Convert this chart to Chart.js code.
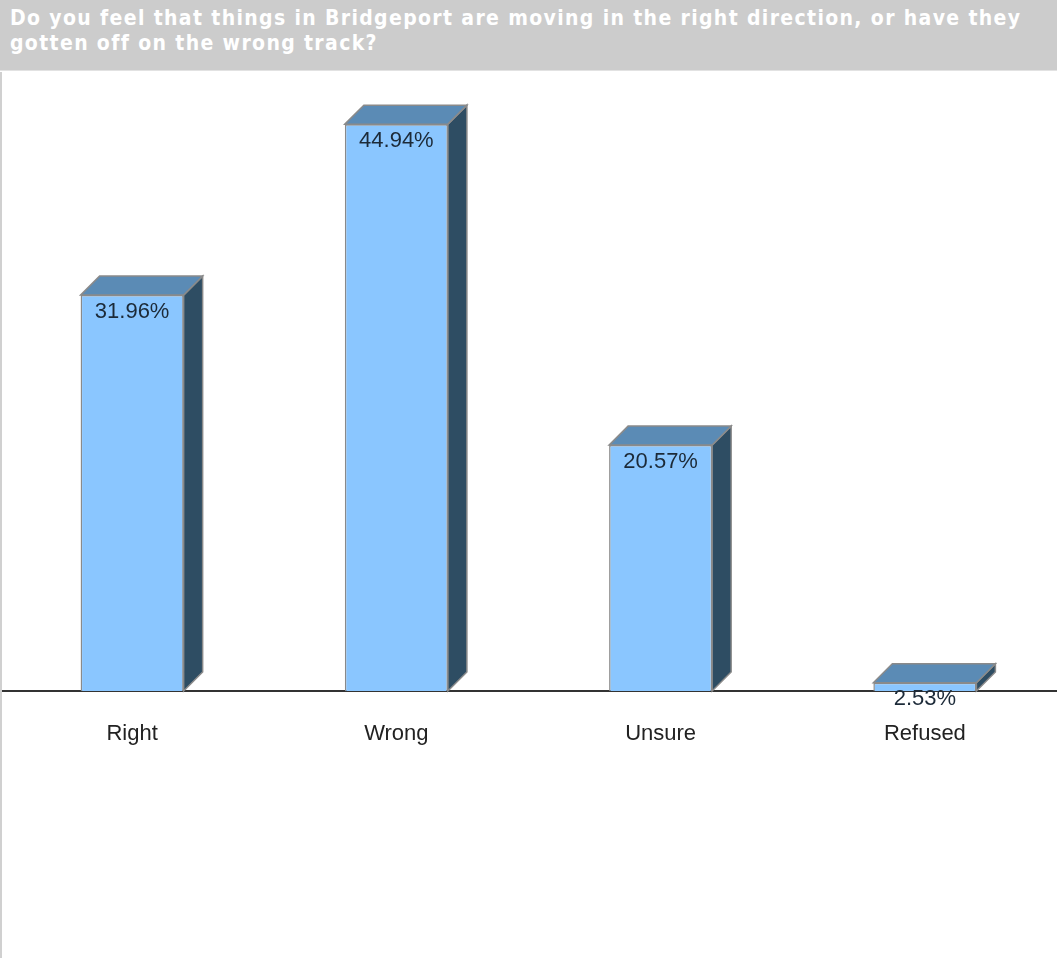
<!DOCTYPE html>
<html>
<head>
<meta charset="utf-8">
<script src="https://cdn.jsdelivr.net/npm/chart.js@4"></script>
<style>
  html, body { margin: 0; padding: 0; background: #ffffff; }
  #page { position: relative; width: 1057px; height: 958px; overflow: hidden; }
  #header {
    position: absolute; left: 0; top: 0; width: 1057px; height: 71px;
    background: #cccccc; border-bottom: 1px solid #e2e2e2; box-sizing: border-box;
    padding: 6px 10px 0 10px; white-space: nowrap;
    color: #ffffff; font-family: 'DejaVu Sans Condensed', 'DejaVu Sans', sans-serif;
    font-weight: bold; font-size: 21px; line-height: 25px; letter-spacing: 1.35px;
  }
  #wrap { position: absolute; left: 0; top: 72px; width: 1057px; height: 886px; }
  #leftline { position: absolute; left: 0; top: 72px; width: 2px; height: 886px; background: #d0d0d0; }
</style>
</head>
<body>
<div id="page">
  <div id="header">Do you feel that things in Bridgeport are moving in the right direction, or have they<br>gotten off on the wrong track?</div>
  <div id="wrap"><canvas id="c"></canvas></div>
  <div id="leftline"></div>
</div>
<script>
const categories = ['Right', 'Wrong', 'Unsure', 'Refused'];
const values = [31.96, 44.94, 20.57, 2.53];
const valueLabels = ['31.96%', '44.94%', '20.57%', '2.53%'];

const FRONT = '#8ac6ff';
const TOP = '#5b8bb5';
const SIDE = '#2e4d63';
const EDGE = '#8a8a8a';
const DX = 19, DY = 19;

const bar3d = {
  id: 'bar3d',
  afterDatasetsDraw(chart) {
    const ctx = chart.ctx;
    const area = chart.chartArea;
    const meta = chart.getDatasetMeta(0);
    ctx.save();
    meta.data.forEach((el, i) => {
      const p = el.getProps(['x', 'y', 'base', 'width'], true);
      const l = p.x - p.width / 2, r = p.x + p.width / 2;
      const top = p.y;
      const base = Math.min(p.base, area.bottom);
      // side face
      ctx.beginPath();
      ctx.moveTo(r, top);
      ctx.lineTo(r + DX, top - DY);
      ctx.lineTo(r + DX, base - DY);
      ctx.lineTo(r, base);
      ctx.closePath();
      ctx.fillStyle = SIDE;
      ctx.fill();
      ctx.lineWidth = 1.5;
      ctx.strokeStyle = EDGE;
      ctx.stroke();
      // top face
      ctx.beginPath();
      ctx.moveTo(l, top);
      ctx.lineTo(l + DX, top - DY);
      ctx.lineTo(r + DX, top - DY);
      ctx.lineTo(r, top);
      ctx.closePath();
      ctx.fillStyle = TOP;
      ctx.fill();
      ctx.stroke();
      // value label
      ctx.fillStyle = '#1c2a38';
      ctx.font = '22px "Liberation Sans", Arial, sans-serif';
      ctx.textAlign = 'center';
      ctx.textBaseline = 'middle';
      ctx.fillText(valueLabels[i], p.x, top + 16.5);
    });
    ctx.restore();
  }
};

new Chart(document.getElementById('c'), {
  type: 'bar',
  data: {
    labels: categories,
    datasets: [{
      data: values,
      backgroundColor: FRONT,
      borderColor: EDGE,
      borderWidth: 1.5,
      barPercentage: 0.39,
      categoryPercentage: 1.0
    }]
  },
  options: {
    responsive: true,
    maintainAspectRatio: false,
    animation: false,
    layout: { padding: 0 },
    plugins: { legend: { display: false }, tooltip: { enabled: false }, title: { display: false } },
    scales: {
      x: {
        z: 1,
        grid: { display: false, drawTicks: false },
        border: { display: true, color: '#333333', width: 2 },
        ticks: { color: '#222222', padding: 30, font: { family: '"Liberation Sans", Arial, sans-serif', size: 22 } },
        afterFit: (s) => { s.height = 267; }
      },
      y: {
        display: false,
        min: 1.9,
        max: 48.9
      }
    }
  },
  plugins: [bar3d]
});
</script>
</body>
</html>
